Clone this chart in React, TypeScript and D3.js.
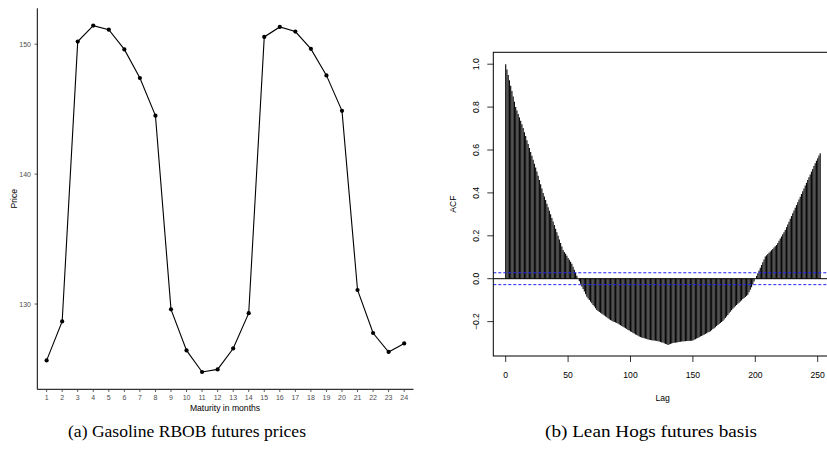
import React from "react";
import * as d3 from "d3";

// (a) gasoline RBOB futures prices by maturity
const maturities = [1, 2, 3, 4, 5, 6, 7, 8, 9, 10, 11, 12, 13, 14, 15, 16, 17, 18, 19, 20, 21, 22, 23, 24];
const prices = [
  125.66, 128.66, 150.2, 151.43, 151.12, 149.6, 147.4, 144.5, 129.59, 126.43, 124.77, 124.97,
  126.58, 129.3, 150.56, 151.33, 150.97, 149.64, 147.6, 144.87, 131.08, 127.77, 126.31, 126.97,
];
const priceTicks = [130, 140, 150];

// (b) lean hogs basis ACF, lags 0..252
const acfValues = [
  1.0, 0.975, 0.95, 0.925, 0.9, 0.875, 0.85, 0.825, 0.8, 0.784,
  0.768, 0.752, 0.736, 0.72, 0.702, 0.683, 0.665, 0.646, 0.628, 0.609,
  0.591, 0.573, 0.555, 0.536, 0.518, 0.5, 0.48, 0.46, 0.44, 0.42,
  0.4, 0.383, 0.367, 0.35, 0.333, 0.317, 0.3, 0.283, 0.267, 0.25,
  0.233, 0.217, 0.2, 0.183, 0.167, 0.15, 0.134, 0.125, 0.116, 0.107,
  0.097, 0.088, 0.079, 0.07, 0.056, 0.042, 0.028, 0.014, 0.0, -0.012,
  -0.024, -0.036, -0.048, -0.06, -0.072, -0.084, -0.092, -0.099, -0.107, -0.115,
  -0.123, -0.13, -0.138, -0.146, -0.15, -0.155, -0.159, -0.163, -0.167, -0.172,
  -0.176, -0.18, -0.184, -0.189, -0.193, -0.196, -0.199, -0.202, -0.204, -0.207,
  -0.21, -0.214, -0.217, -0.221, -0.224, -0.228, -0.231, -0.235, -0.239, -0.242,
  -0.246, -0.249, -0.253, -0.256, -0.26, -0.263, -0.266, -0.269, -0.272, -0.274,
  -0.276, -0.278, -0.279, -0.281, -0.283, -0.285, -0.286, -0.287, -0.288, -0.288,
  -0.289, -0.29, -0.292, -0.293, -0.295, -0.297, -0.298, -0.301, -0.304, -0.306,
  -0.309, -0.307, -0.304, -0.302, -0.3, -0.299, -0.298, -0.297, -0.296, -0.295,
  -0.294, -0.293, -0.293, -0.292, -0.292, -0.291, -0.29, -0.29, -0.289, -0.289,
  -0.288, -0.285, -0.282, -0.279, -0.276, -0.273, -0.27, -0.267, -0.264, -0.261,
  -0.258, -0.254, -0.251, -0.248, -0.245, -0.24, -0.235, -0.231, -0.226, -0.221,
  -0.216, -0.211, -0.207, -0.202, -0.197, -0.19, -0.183, -0.176, -0.169, -0.161,
  -0.154, -0.147, -0.14, -0.134, -0.129, -0.123, -0.117, -0.112, -0.106, -0.101,
  -0.095, -0.09, -0.085, -0.08, -0.075, -0.063, -0.052, -0.04, -0.027, -0.013,
  0.0, 0.013, 0.025, 0.038, 0.051, 0.064, 0.077, 0.09, 0.103, 0.109,
  0.115, 0.121, 0.127, 0.133, 0.139, 0.145, 0.151, 0.157, 0.167, 0.177,
  0.187, 0.197, 0.207, 0.217, 0.227, 0.24, 0.253, 0.266, 0.279, 0.292,
  0.305, 0.318, 0.331, 0.343, 0.356, 0.369, 0.382, 0.395, 0.408, 0.421,
  0.434, 0.447, 0.46, 0.473, 0.486, 0.499, 0.512, 0.525, 0.538, 0.55,
  0.562, 0.574, 0.585,
];
const acfTicks = [-0.2, 0.0, 0.2, 0.4, 0.6, 0.8, 1.0];
const lagTicks = [0, 50, 100, 150, 200, 250];
const confBound = 0.0277;

const W = 827;
const H = 451;
const sans = "'Liberation Sans', Arial, Helvetica, sans-serif";

const PricePanel = () => {
  const lo = d3.min(prices) as number;
  const hi = d3.max(prices) as number;
  const pad = (hi - lo) * 0.05;
  const x = d3.scaleLinear().domain([0.4, 24.6]).range([37.3, 413.5]);
  const y = d3.scaleLinear().domain([lo - pad, hi + pad]).range([389.3, 8.3]);
  const line = d3
    .line<number>()
    .x((_, i) => x(maturities[i]))
    .y((d) => y(d));

  return (
    <g fontFamily={sans}>
      <line x1={37.3} x2={37.3} y1={8.3} y2={389.3} stroke="#000" strokeWidth={1} />
      <line x1={37.3} x2={413.5} y1={389.3} y2={389.3} stroke="#000" strokeWidth={1} />
      {priceTicks.map((t) => (
        <g key={t}>
          <line x1={34.6} x2={37.3} y1={y(t)} y2={y(t)} stroke="#333" strokeWidth={0.8} />
          <text x={31} y={y(t)} textAnchor="end" dominantBaseline="central" fontSize={7} fill="#4d4d4d">
            {t}
          </text>
        </g>
      ))}
      {maturities.map((m) => (
        <g key={m}>
          <line x1={x(m)} x2={x(m)} y1={389.3} y2={392} stroke="#333" strokeWidth={0.8} />
          <text x={x(m)} y={397.5} textAnchor="middle" dominantBaseline="central" fontSize={7} fill="#4d4d4d">
            {m}
          </text>
        </g>
      ))}
      <path d={line(prices) ?? ""} fill="none" stroke="#000" strokeWidth={1.1} />
      {prices.map((p, i) => (
        <circle key={i} cx={x(maturities[i])} cy={y(p)} r={2.1} fill="#000" />
      ))}
      <text x={225} y={407.5} textAnchor="middle" dominantBaseline="central" fontSize={8.6}>
        Maturity in months
      </text>
      <text
        transform={`translate(13.5,${(8.3 + 389.3) / 2}) rotate(-90)`}
        textAnchor="middle"
        dominantBaseline="central"
        fontSize={8.6}
      >
        Price
      </text>
    </g>
  );
};

const AcfPanel = () => {
  const x = d3.scaleLinear().domain([0, 250]).range([505.7, 817.7]);
  const y = d3.scaleLinear().domain([0, 1]).range([278.7, 64.2]);
  const left = 493.3;
  const right = 828;
  const top = 52.3;
  const bottom = 356;

  return (
    <g fontFamily={sans}>
      {acfValues.map((v, i) => (
        <line key={i} x1={x(i)} x2={x(i)} y1={y(0)} y2={y(v)} stroke="#0a0a0a" strokeWidth={1.15} />
      ))}
      <line x1={left} x2={right} y1={y(0)} y2={y(0)} stroke="#000" strokeWidth={1} />
      {[confBound, -confBound].map((c) => (
        <line
          key={c}
          x1={left}
          x2={right}
          y1={y(c)}
          y2={y(c)}
          stroke="#2020ff"
          strokeWidth={1}
          strokeDasharray="3,2"
        />
      ))}
      <rect x={left} y={top} width={right - left} height={bottom - top} fill="none" stroke="#000" strokeWidth={1} />
      {acfTicks.map((t) => (
        <g key={t}>
          <line x1={left - 6} x2={left} y1={y(t)} y2={y(t)} stroke="#000" strokeWidth={0.8} />
          <text
            transform={`translate(475.5,${y(t)}) rotate(-90)`}
            textAnchor="middle"
            dominantBaseline="central"
            fontSize={8.6}
          >
            {t === 0 ? "0.0" : t.toFixed(1).replace("-", "\u2212")}
          </text>
        </g>
      ))}
      {lagTicks.map((t) => (
        <g key={t}>
          <line x1={x(t)} x2={x(t)} y1={bottom} y2={bottom + 6} stroke="#000" strokeWidth={0.8} />
          <text x={x(t)} y={375} textAnchor="middle" dominantBaseline="central" fontSize={8.6}>
            {t}
          </text>
        </g>
      ))}
      <text x={662.7} y={397.5} textAnchor="middle" dominantBaseline="central" fontSize={8.6}>
        Lag
      </text>
      <text
        transform={`translate(453,${(top + bottom) / 2}) rotate(-90)`}
        textAnchor="middle"
        dominantBaseline="central"
        fontSize={8.6}
      >
        ACF
      </text>
    </g>
  );
};

export default function App() {
  return (
    <svg
      width={W}
      height={H}
      style={{ position: "absolute", left: 0, top: 0, background: "#fff" }}
    >
      <rect width={W} height={H} fill="#fff" />
      <PricePanel />
      <AcfPanel />
      <g fontFamily="'Liberation Serif', 'Times New Roman', serif" fontSize={17}>
        <text x={187} y={437} textAnchor="middle" textLength={238} lengthAdjust="spacingAndGlyphs">
          (a) Gasoline RBOB futures prices
        </text>
        <text x={651} y={437} textAnchor="middle" textLength={212} lengthAdjust="spacingAndGlyphs">
          (b) Lean Hogs futures basis
        </text>
      </g>
    </svg>
  );
}
